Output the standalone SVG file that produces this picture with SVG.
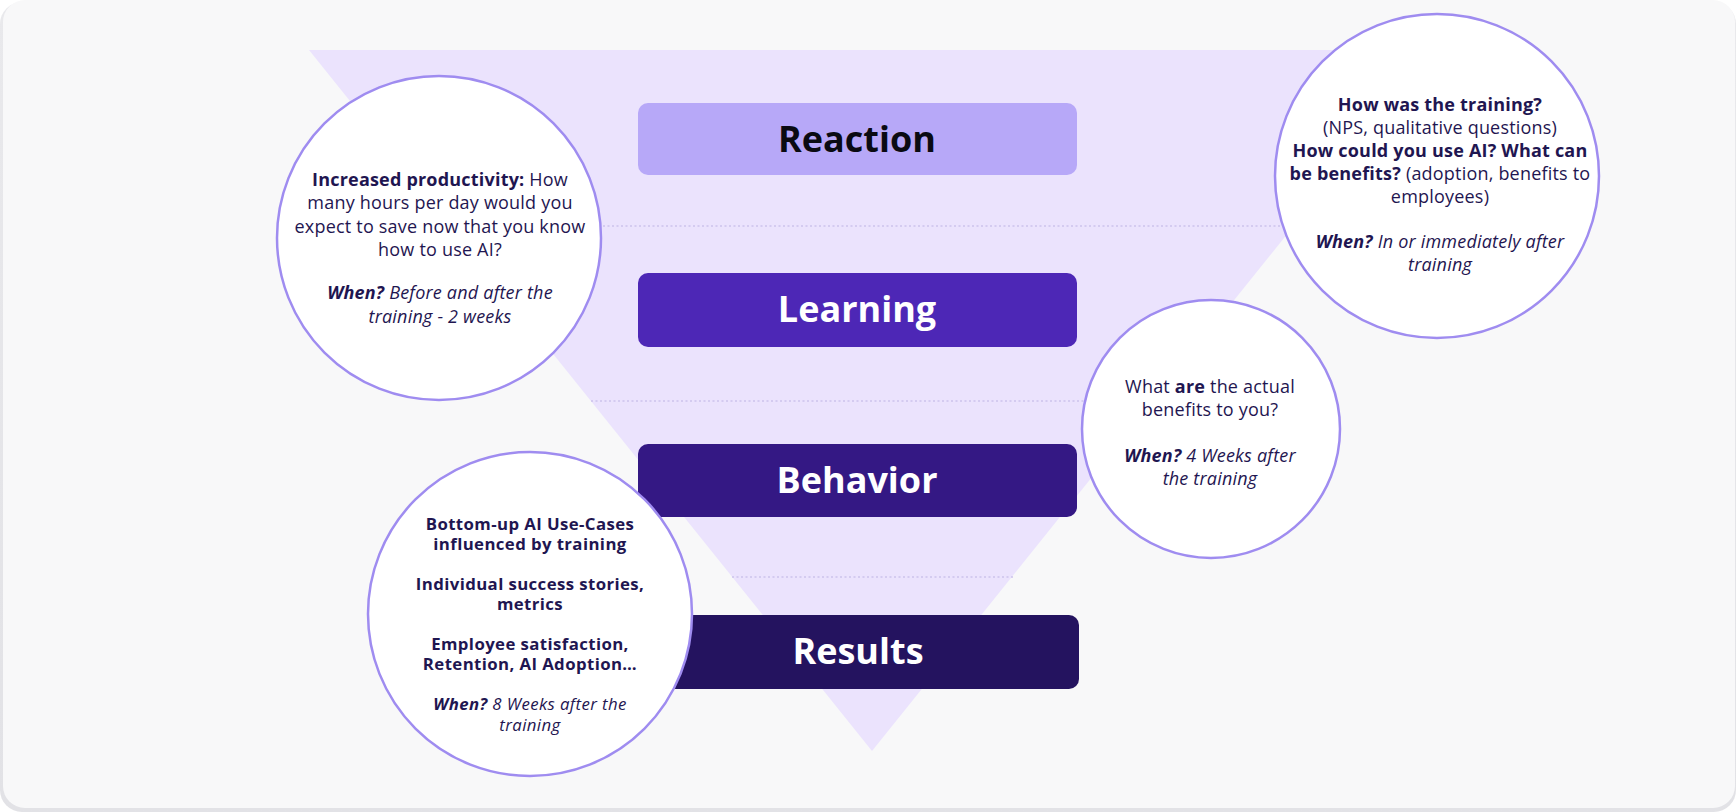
<svg xmlns="http://www.w3.org/2000/svg" width="1736" height="812" viewBox="0 0 1736 812">
<style>
.bar-label{font-family:"Open Sans","Liberation Sans",sans-serif;font-weight:700;font-size:36px;text-anchor:middle}
.ct{font-family:"Open Sans","Liberation Sans",sans-serif;font-size:18px;letter-spacing:0.2px;fill:#1f1651;text-anchor:middle}
.cb{font-family:"Open Sans","Liberation Sans",sans-serif;font-size:16.8px;letter-spacing:0.4px;font-weight:700;fill:#1f1651;text-anchor:middle}
.cs{font-family:"Open Sans","Liberation Sans",sans-serif;font-size:16.8px;letter-spacing:0.4px;fill:#1f1651;text-anchor:middle}
.b{font-weight:700}
.i{font-style:italic}
.bi{font-weight:700;font-style:italic}
.circle{fill:#ffffff;stroke:#9f8cf0;stroke-width:2.5}
.dot{stroke:#cdc3ec;stroke-width:1.6;stroke-dasharray:2 2.5;fill:none}
</style>
<defs>
<linearGradient id="shadow" x1="0" y1="0" x2="0" y2="1">
<stop offset="0" stop-color="#e9e9ec"/><stop offset="1" stop-color="#e2e2e6"/>
</linearGradient>
</defs>
<rect width="1736" height="812" fill="#ffffff"/>
<rect x="0" y="2" width="1736" height="810" rx="22" fill="url(#shadow)"/>
<rect x="3" y="0" width="1732" height="808" rx="22" fill="#f8f8f9"/>
<g id="funnel">
<polygon points="309,50 1435,50 872,751" fill="#ebe3fd"/>
</g>
<g id="connectors">
<line class="dot" x1="450" y1="226" x2="1294" y2="226"/>
<line class="dot" x1="591" y1="401" x2="1153" y2="401"/>
<line class="dot" x1="732" y1="577" x2="1014" y2="577"/>
</g>
<g id="reaction">
<rect x="638" y="103" width="439" height="72" rx="10" fill="#b7a8f8"/>
<text class="bar-label" x="857" y="152" fill="#0a0a12">Reaction</text>
</g>
<g id="learning">
<rect x="638" y="273" width="439" height="74" rx="10" fill="#4d27b6"/>
<text class="bar-label" x="857" y="322" fill="#ffffff">Learning</text>
</g>
<g id="behavior">
<rect x="638" y="444" width="439" height="73" rx="10" fill="#341884"/>
<text class="bar-label" x="857" y="493" fill="#ffffff">Behavior</text>
</g>
<g id="results">
<rect x="638" y="615" width="441" height="74" rx="10" fill="#24135f"/>
<text class="bar-label" x="858" y="664" fill="#ffffff">Results</text>
</g>
<g id="learning-note">
<circle class="circle" cx="439" cy="238" r="162"/>
<text class="ct" x="440" y="186"><tspan class="b">Increased productivity:</tspan> How</text>
<text class="ct" x="440" y="209">many hours per day would you</text>
<text class="ct" x="440" y="233">expect to save now that you know</text>
<text class="ct" x="440" y="256">how to use AI?</text>
<text class="ct" x="440" y="299"><tspan class="bi">When?</tspan> <tspan class="i">Before and after the</tspan></text>
<text class="ct i" x="440" y="323">training - 2 weeks</text>
</g>
<g id="reaction-note">
<circle class="circle" cx="1437" cy="176" r="162"/>
<text class="ct b" x="1440" y="111">How was the training?</text>
<text class="ct" x="1440" y="134">(NPS, qualitative questions)</text>
<text class="ct b" x="1440" y="157">How could you use AI? What can</text>
<text class="ct" x="1440" y="180"><tspan class="b">be benefits?</tspan> (adoption, benefits to</text>
<text class="ct" x="1440" y="203">employees)</text>
<text class="ct" x="1440" y="248"><tspan class="bi">When?</tspan> <tspan class="i">In or immediately after</tspan></text>
<text class="ct i" x="1440" y="271">training</text>
</g>
<g id="behavior-note">
<circle class="circle" cx="1211" cy="429" r="129"/>
<text class="ct" x="1210" y="393">What <tspan class="b">are</tspan> the actual</text>
<text class="ct" x="1210" y="416">benefits to you?</text>
<text class="ct" x="1210" y="462"><tspan class="bi">When?</tspan> <tspan class="i">4 Weeks after</tspan></text>
<text class="ct i" x="1210" y="485">the training</text>
</g>
<g id="results-note">
<circle class="circle" cx="530" cy="614" r="162"/>
<text class="cb" x="530" y="530">Bottom-up AI Use-Cases</text>
<text class="cb" x="530" y="550">influenced by training</text>
<text class="cb" x="530" y="590">Individual success stories,</text>
<text class="cb" x="530" y="610">metrics</text>
<text class="cb" x="530" y="650">Employee satisfaction,</text>
<text class="cb" x="530" y="670">Retention, AI Adoption…</text>
<text class="cs" x="530" y="710"><tspan class="bi">When?</tspan> <tspan class="i">8 Weeks after the</tspan></text>
<text class="cs i" x="530" y="731">training</text>
</g>
</svg>
